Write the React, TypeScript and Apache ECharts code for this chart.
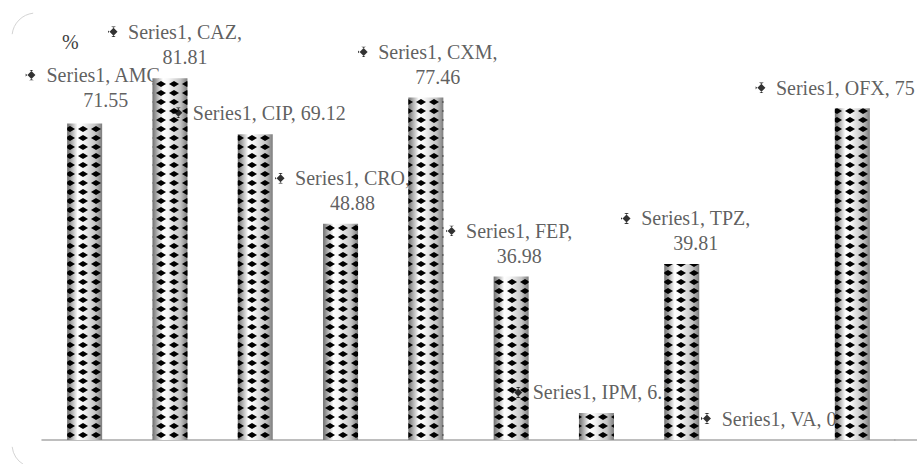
import React, { useEffect, useRef } from "react";
import * as echarts from "echarts";

// ---- data ----
const seriesName = "Series1";
const categories = ["AMC", "CAZ", "CIP", "CRO", "CXM", "FEP", "IPM", "TPZ", "VA", "OFX"];
const values = [71.55, 81.81, 69.12, 48.88, 77.46, 36.98, 6.12, 39.81, 0, 75];
const yMin = 0;
const yMax = 90;
const axisTitle = "%";

// ---- label layout (not data) ----
const labelOffsets: number[][] = [
  [11, -11], [5, -9], [4, -9], [2, -8], [2, -8],
  [-2, -8], [1, -8], [4, -8], [2, -9], [-17, -8],
];
const labelTwoLines = [true, true, false, true, true, true, false, true, false, false];

const FONT_NAME = "Liberation Serif";
const FONT = "'Liberation Serif', 'DejaVu Serif', serif";
const FONT_SIZE = 20;
const LINE_H = 25;
const TEXT_COLOR = "#363636";

const markerSvg =
  "<svg xmlns='http://www.w3.org/2000/svg' width='11' height='11'>" +
  "<path d='M6 1.5 L10 5.5 L6 9.5 L2 5.5 Z M0 3.8 L1.8 5.5 L0 7.2 Z M3.5 0 L8.5 0 L6 1.6 Z M3.5 11 L8.5 11 L6 9.4 Z' fill='black'/></svg>";
const markerUrl = "data:image/svg+xml;charset=utf-8," + encodeURIComponent(markerSvg);

function headText(i: number) {
  return `${seriesName}, ${categories[i]},`;
}
function line1Text(i: number) {
  return labelTwoLines[i] ? headText(i) : `${headText(i)} ${values[i]}`;
}

export default function App() {
  const ref = useRef<HTMLDivElement>(null);

  useEffect(() => {
    if (!ref.current) return;
    const chart = echarts.init(ref.current, undefined, { renderer: "svg" });

    const ctx = document.createElement("canvas").getContext("2d")!;
    ctx.font = `${FONT_SIZE}px "${FONT_NAME}"`;
    const markerOffsets = values.map((_, i) => {
      const w = ctx.measureText(line1Text(i)).width;
      const blockW = 20 + w;
      const [dx, dy] = labelOffsets[i];
      const lines = labelTwoLines[i] ? 2 : 1;
      return [dx - blockW / 2 + 5, dy - lines * LINE_H + LINE_H / 2];
    });

    const barColor = new echarts.graphic.LinearGradient(0, 0, 1, 0, [
      { offset: 0, color: "#6e6e6e" },
      { offset: 0.3, color: "#ffffff" },
      { offset: 0.45, color: "#f6f6f6" },
      { offset: 0.8, color: "#c4c4c4" },
      { offset: 1, color: "#7c7c7c" },
    ]);

    chart.setOption({
      animation: false,
      grid: { left: 42, right: 22, top: 42, bottom: 24, containLabel: false },
      xAxis: {
        type: "category",
        data: categories,
        axisLine: { lineStyle: { color: "#a9a9a9", width: 1.5 } },
        axisTick: { show: false },
        axisLabel: { show: false },
        splitLine: { show: false },
      },
      yAxis: {
        type: "value",
        min: yMin,
        max: yMax,
        axisLine: { show: false },
        axisTick: { show: false },
        axisLabel: { show: false },
        splitLine: { show: false },
        name: axisTitle,
        nameLocation: "end",
        nameGap: 0,
        nameTextStyle: {
          fontFamily: FONT,
          fontSize: 20,
          color: "#404040",
          align: "left",
          verticalAlign: "middle",
          padding: [0, 0, 0, 20],
        },
      },
      series: [
        {
          name: seriesName,
          type: "bar",
          data: values,
          barWidth: 35,
          z: 3,
          silent: true,
          itemStyle: {
            color: barColor,
            decal: {
              symbol: "diamond",
              symbolSize: 1,
              symbolKeepAspect: false,
              color: "#000000",
              dashArrayX: [9.5, 2.2],
              dashArrayY: [6, 2.4],
            },
          },
        },
        {
          name: seriesName + "-labels",
          type: "scatter",
          z: 2,
          silent: true,
          symbolSize: 0,
          itemStyle: { color: "transparent" },
          data: values.map((v, i) => ({ value: v, label: { offset: labelOffsets[i] } })),
          label: {
            show: true,
            position: "top",
            distance: 0,
            align: "center",
            formatter: (p: any) => {
              const i = p.dataIndex;
              return labelTwoLines[i]
                ? `{g|}{t|${headText(i)}}\n{s|}{t|${values[i]}}`
                : `{g|}{t|${line1Text(i)}}`;
            },
            rich: {
              g: { width: 20, lineHeight: LINE_H },
              s: { width: 20, lineHeight: LINE_H },
              t: { fontFamily: FONT, fontSize: FONT_SIZE, color: TEXT_COLOR, lineHeight: LINE_H },
            },
          },
        },
        {
          name: seriesName + "-keys",
          type: "scatter",
          z: 4,
          silent: true,
          symbol: "image://" + markerUrl,
          symbolSize: 11,
          data: values.map((v, i) => ({ value: v, symbolOffset: markerOffsets[i] })),
        },
      ],
      graphic: [
        {
          type: "arc",
          silent: true,
          shape: { cx: 36, cy: 37, r: 24, startAngle: Math.PI + 0.12, endAngle: Math.PI * 1.5 - 0.12 },
          style: { fill: "none", stroke: "#d4d4d4", lineWidth: 1 },
        },
        {
          type: "arc",
          silent: true,
          shape: { cx: 36, cy: 444, r: 24, startAngle: Math.PI / 2 + 0.55, endAngle: Math.PI - 0.12 },
          style: { fill: "none", stroke: "#d4d4d4", lineWidth: 1 },
        },
        {
          type: "line",
          silent: true,
          shape: { x1: 894, y1: 440, x2: 917, y2: 440 },
          style: { stroke: "#a9a9a9", lineWidth: 1.5 },
        },
      ],
    });

    return () => chart.dispose();
  }, []);

  return (
    <div
      ref={ref}
      style={{ position: "absolute", left: 0, top: 0, width: 917, height: 464, background: "#ffffff" }}
    />
  );
}
